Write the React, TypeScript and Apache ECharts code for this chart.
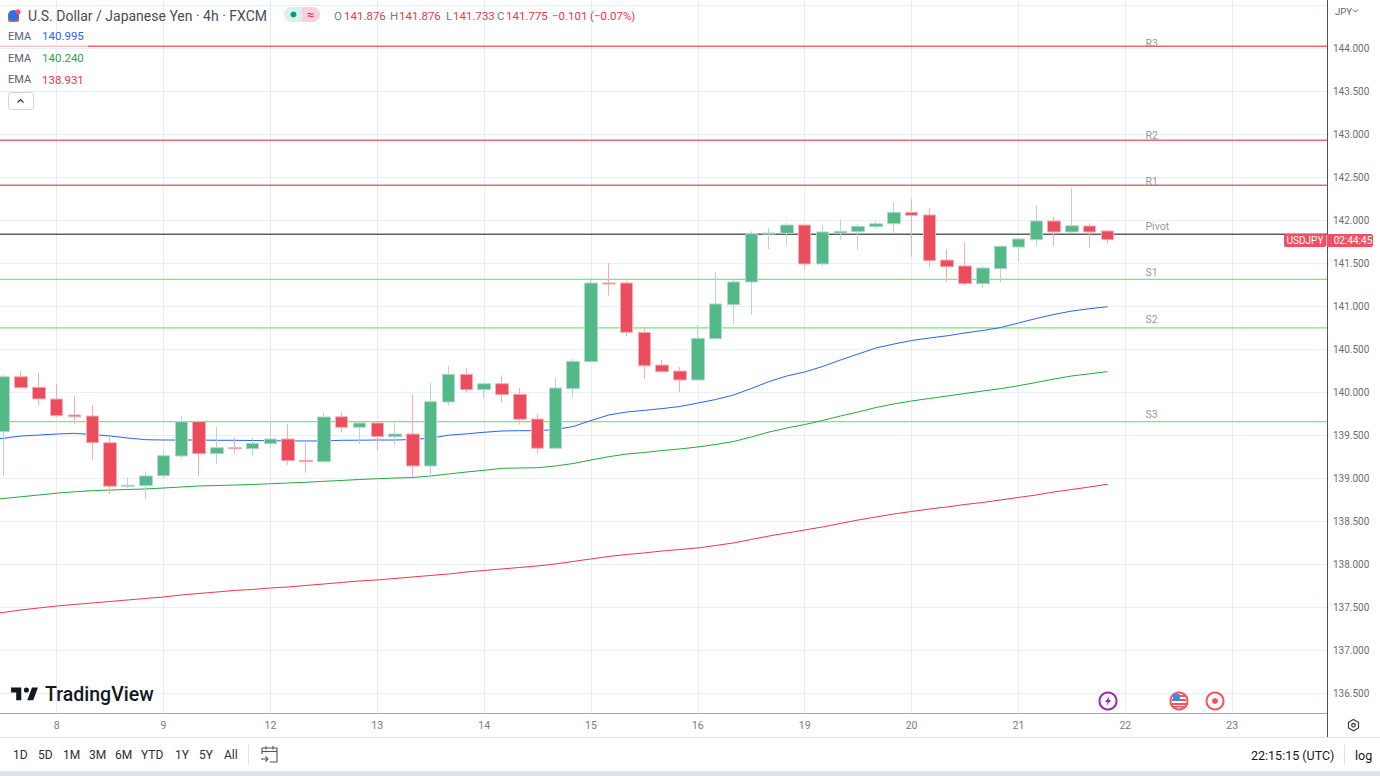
import React, { useEffect, useRef } from "react";
import * as echarts from "echarts";

// ---------- data (prices) ----------
const dayLabels = ["8", "9", "12", "13", "14", "15", "16", "19", "20", "21", "22", "23"];
const priceLabels = [136.5, 137, 137.5, 138, 138.5, 139, 139.5, 140, 140.5, 141, 141.5, 142, 142.5, 143, 143.5, 144];
const priceGrid = [...priceLabels, 144.5];

const opens = [139.542,140.181,140.058,139.922,139.736,139.724,139.414,138.907,138.914,139.030,139.259,139.658,139.286,139.356,139.344,139.402,139.457,139.209,139.193,139.716,139.593,139.643,139.484,139.515,139.143,139.887,140.209,140.030,140.100,139.977,139.689,139.349,140.042,140.356,141.271,141.271,140.697,140.317,140.247,140.143,140.623,141.018,141.283,141.841,141.849,141.945,141.492,141.852,141.867,141.926,141.960,142.093,142.062,141.538,141.469,141.263,141.437,141.689,141.774,141.992,141.864,141.934,141.876];
const closes = [140.181,140.053,139.922,139.728,139.716,139.414,138.907,138.919,139.027,139.263,139.658,139.286,139.356,139.344,139.407,139.457,139.205,139.193,139.713,139.593,139.643,139.484,139.515,139.143,139.891,140.209,140.030,140.100,139.972,139.686,139.349,140.050,140.360,141.271,141.259,140.697,140.309,140.239,140.143,140.628,141.027,141.283,141.844,141.852,141.945,141.492,141.864,141.872,141.930,141.960,142.093,142.058,141.530,141.460,141.263,141.445,141.698,141.783,141.992,141.864,141.937,141.864,141.775];
const lows = [139.030,140.050,139.844,139.713,139.631,139.216,138.817,138.887,138.759,139.003,139.236,139.023,139.170,139.286,139.263,139.356,139.155,139.065,139.181,139.530,139.399,139.321,139.384,139.012,139.012,139.844,139.995,139.934,139.879,139.623,139.286,139.333,139.945,140.352,141.123,140.654,140.154,140.232,140.003,140.138,140.620,140.786,140.902,141.666,141.713,141.437,141.460,141.771,141.655,141.902,141.841,141.579,141.457,141.279,141.240,141.216,141.279,141.515,141.701,141.701,141.860,141.678,141.733];
const highs = [140.201,140.247,140.224,140.096,139.957,139.852,139.480,139.007,139.081,139.329,139.724,139.662,139.596,139.477,139.477,139.666,139.628,139.419,139.763,139.768,139.649,139.649,139.643,139.977,140.108,140.306,140.283,140.105,140.198,140.050,139.748,140.166,140.387,141.325,141.503,141.294,140.744,140.375,140.294,140.782,141.402,141.306,141.872,141.914,141.968,141.950,141.945,142.003,141.957,141.995,142.205,142.248,142.143,141.666,141.748,141.465,141.705,141.790,142.174,142.038,142.375,141.965,141.876];

const emaBlue = [139.451,139.465,139.492,139.503,139.515,139.523,139.509,139.492,139.468,139.449,139.445,139.445,139.445,139.442,139.442,139.439,139.438,139.434,139.434,139.434,139.442,139.443,139.445,139.445,139.451,139.468,139.501,139.517,139.535,139.550,139.554,139.553,139.567,139.602,139.672,139.736,139.771,139.790,139.811,139.835,139.875,139.916,139.968,140.044,140.125,140.190,140.236,140.300,140.375,140.445,140.515,140.561,140.602,140.631,140.657,140.690,140.719,140.753,140.806,140.858,140.905,140.945,140.972,140.995];
const emaGreen = [138.747,138.765,138.785,138.806,138.827,138.843,138.856,138.864,138.870,138.876,138.887,138.899,138.911,138.916,138.922,138.928,138.937,138.945,138.954,138.965,138.975,138.986,138.995,139.003,139.009,139.027,139.050,139.073,139.093,139.116,139.120,139.123,139.143,139.172,139.213,139.251,139.282,139.300,139.323,139.341,139.364,139.393,139.428,139.480,139.538,139.585,139.625,139.672,139.724,139.771,139.823,139.864,139.899,139.928,139.957,139.986,140.015,140.042,140.077,140.114,140.155,140.190,140.215,140.240];
const emaRed = [137.410,137.440,137.469,137.492,137.515,137.533,137.550,137.568,137.585,137.603,137.620,137.643,137.661,137.678,137.696,137.707,137.725,137.736,137.754,137.771,137.789,137.806,137.818,137.835,137.853,137.870,137.887,137.911,137.928,137.946,137.963,137.981,138.004,138.033,138.062,138.091,138.114,138.132,138.155,138.172,138.190,138.219,138.248,138.289,138.329,138.364,138.399,138.434,138.475,138.515,138.550,138.585,138.614,138.643,138.667,138.696,138.719,138.748,138.777,138.806,138.841,138.870,138.899,138.931];

const levelNames = ["R3", "R2", "R1", "Pivot", "S1", "S2", "S3"];
const levelPrices = [144.023, 142.931, 142.408, 141.839, 141.313, 140.75, 139.66];

const rangeButtons = ["1D", "5D", "1M", "3M", "6M", "YTD", "1Y", "5Y", "All"];

// ---------- layout / style ----------
const W = 1380, H = 776, PLOT_R = 1327, PLOT_B = 713;
const FIRST_TICK_PX = 56.7, BAR_PX = 17.81;
const xMin = -FIRST_TICK_PX / BAR_PX;
const xMax = (PLOT_R - FIRST_TICK_PX) / BAR_PX;
const PX_PRICE = 0.011628;
const yMax = 144.5616;
const yMin = yMax - PLOT_B * PX_PRICE;
const UP = "#53b987", DOWN = "#eb4d5c";
const levelColors = ["#f0676d", "#f0676d", "#f0676d", "#5d5f66", "#72ec72", "#72ec72", "#72ec72"];
const levelLabelDy = [-3, -5, -4, -8, -7, -8, -7];
const FONT = "Roboto, 'Liberation Sans', sans-serif";
const LABEL_X = (1145 - FIRST_TICK_PX) / BAR_PX;

const t = (text: string, x: number, y: number, fill: string, size = 12, extra: any = {}) => ({
  type: "text", x, y, z: 100,
  style: { text, fill, font: `${extra.weight || "normal"} ${size}px ${FONT}`, textAlign: extra.align || "left", textVerticalAlign: "middle" },
});
const rect = (x: number, y: number, width: number, height: number, fill: string, r: any = 0, extra: any = {}) => ({
  type: "rect", z: extra.z ?? 90, shape: { x, y, width, height, r },
  style: { fill, stroke: extra.stroke, lineWidth: extra.lineWidth, opacity: extra.opacity },
});
const ln = (x1: number, y1: number, x2: number, y2: number, stroke: string, lineWidth = 1) => ({
  type: "line", z: 95, shape: { x1, y1, x2, y2 }, style: { stroke, lineWidth },
});
const circ = (cx: number, cy: number, r: number, fill: string, stroke?: string, lineWidth = 2) => ({
  type: "circle", z: 96, shape: { cx, cy, r }, style: { fill, stroke, lineWidth },
});

const TV_LOGO = "M14 6H2v6h6v9h6V6z M28 21h-7l5.6-15h7L28 21z M20 12a3 3 0 1 0 0-6 3 3 0 0 0 0 6z";

export default function App() {
  const ref = useRef<HTMLDivElement>(null);
  useEffect(() => {
    echarts.graphic.registerShape("tvlogo", echarts.graphic.extendPath(TV_LOGO, {}));
    const chart = echarts.init(ref.current!, undefined, { renderer: "svg" });
    const candles = opens.map((o, i) => [i - 3, o, closes[i], lows[i], highs[i]]);
    const ema = (arr: number[], color: string) => ({
      type: "line", data: arr.map((v, i) => [i - 4, v]), showSymbol: false, symbol: "none",
      lineStyle: { color, width: 1 }, z: 3, silent: true,
    });
    const greys = "#50535e", muted = "#787b86";
    const graphic: any[] = [
      // legend backdrop dimming the R3 line
      rect(0, 44.5, 88, 3.5, "#ffffff", 0, { opacity: 0.6 }),
      // header
      circ(19, 11, 3.5, "#e8eef5"),
      circ(13.5, 15.5, 5.5, "#2f6fe4"),
      rect(8, 16, 11, 6, "#f0505f", 2),
      circ(18, 12, 2.5, "#f0505f"),
      t("U.S. Dollar / Japanese Yen · 4h · FXCM", 28, 15.5, "#4a4d57", 14),
      rect(284, 7, 18, 15, "#d8f1ea", [7.5, 0, 0, 7.5]),
      rect(302, 7, 18, 15, "#f9d0dd", [0, 7.5, 7.5, 0]),
      circ(293.5, 14.5, 3, "#089981"),
      t("≈", 310.5, 14.5, "#e91e63", 13, { align: "center" }),
      t("O", 334, 15.5, muted, 11.5), t("141.876", 344, 15.5, "#f23645", 11.5),
      t("H", 390, 15.5, muted, 11.5), t("141.876", 399, 15.5, "#f23645", 11.5),
      t("L", 446, 15.5, muted, 11.5), t("141.733", 453, 15.5, "#f23645", 11.5),
      t("C", 497, 15.5, muted, 11.5), t("141.775", 506, 15.5, "#f23645", 11.5),
      t("−0.101", 552, 15.5, "#f23645", 11.5), t("(−0.07%)", 590, 15.5, "#f23645", 11.5),
      t("EMA", 8, 36, "#5d606b", 11), t("140.995", 42, 36, "#2962ff", 11.5),
      t("EMA", 8, 58, "#5d606b", 11), t("140.240", 42, 58, "#22ab3c", 11.5),
      t("EMA", 8, 79.5, "#5d606b", 11), t("138.931", 42, 79.5, "#f23645", 11.5),
      rect(8.5, 92.5, 25, 17, "#ffffff", 3, { stroke: "#d1d4dc", lineWidth: 1 }),
      { type: "polyline", z: 96, shape: { points: [[17.5, 102.5], [20.5, 99.5], [23.5, 102.5]] }, style: { stroke: "#2a2e39", lineWidth: 1.2, fill: "none" } },
      // right scale header
      t("JPY", 1335, 11, "#5d606b", 9.5),
      { type: "polyline", z: 96, shape: { points: [[1353, 9.5], [1355.5, 12], [1358, 9.5]] }, style: { stroke: "#5d606b", lineWidth: 1, fill: "none" } },
      // price tags
      rect(1284, 234, 42, 13, "#f0505f", 2),
      t("USDJPY", 1305, 240.7, "#ffffff", 10, { align: "center" }),
      rect(1326.5, 234, 46.5, 13, "#f0505f", 2),
      t("02:44:45", 1353, 240.7, "#ffffff", 10, { align: "center" }),
      // logo
      { type: "tvlogo", x: 9.4, y: 682.4, scaleX: 0.85, scaleY: 0.85, z: 96, style: { fill: "#131722" } },
      t("TradingView", 45, 694, "#131722", 19.5, { weight: "500" }),
      // events
      circ(1108, 701, 8.5, "#ffffff", "#9c27b0"),
      { type: "polygon", z: 97, shape: { points: [[1109.5, 696], [1105, 702], [1107.6, 702], [1106.5, 706], [1111, 700], [1108.4, 700]] }, style: { fill: "#9c27b0" } },
      circ(1179, 701, 8.5, "#ffffff", "#f7525f"),
      rect(1172, 695, 14, 2, "#f7525f", 0, { z: 97 }), rect(1172, 699, 14, 2, "#f7525f", 0, { z: 97 }),
      rect(1172, 703, 14, 2, "#f7525f", 0, { z: 97 }), rect(1173, 706, 12, 1.5, "#f7525f", 0, { z: 97 }),
      rect(1173, 694, 7, 7, "#3d8bdc", 1, { z: 98 }),
      circ(1215, 701, 8.5, "#ffffff", "#f7525f"),
      circ(1215, 701, 3, "#f7525f"),
      // axis extensions and lower chrome
      ln(1327.5, PLOT_B, 1327.5, 737, greys),
      rect(0, 737.5, W, 34, "#ffffff", 0, { z: 80 }),
      ln(0, 737.5, W, 737.5, "#e0e3eb"),
      rect(0, 771, W, 5, "#e0e3eb", 0),
      { type: "polygon", z: 96, shape: { points: [[1353.5, 719.5], [1358.5, 722.3], [1358.5, 728], [1353.5, 730.8], [1348.5, 728], [1348.5, 722.3]] }, style: { fill: "#fff", stroke: "#363a45", lineWidth: 1.2 } },
      circ(1353.5, 725.2, 1.8, "#fff", "#363a45", 1.2),
      ln(248.5, 745, 248.5, 765, "#e0e3eb"),
      ln(1344.5, 745, 1344.5, 765, "#e0e3eb"),
      { type: "polyline", z: 96, shape: { points: [[262, 754], [262, 748], [277, 748], [277, 762], [270, 762]] }, style: { stroke: "#50535e", lineWidth: 1.1, fill: "none" } },
      ln(262, 751.5, 277, 751.5, "#50535e", 1.1),
      ln(266, 746, 266, 749.5, "#50535e", 1.1),
      ln(273, 746, 273, 749.5, "#50535e", 1.1),
      ln(261, 759, 268, 759, "#50535e", 1.1),
      { type: "polyline", z: 96, shape: { points: [[265.5, 756.5], [268, 759], [265.5, 761.5]] }, style: { stroke: "#50535e", lineWidth: 1.1, fill: "none" } },
      t("22:15:15 (UTC)", 1251, 755, "#131722", 12.5),
      t("log", 1355, 755, "#131722", 12.5),
    ];
    const btnX = [13, 38, 63, 89, 115, 141, 175, 199, 224];
    rangeButtons.forEach((b, i) => graphic.push(t(b, btnX[i], 755, "#2a2e39", 12)));

    chart.setOption({
      animation: false,
      backgroundColor: "#ffffff",
      grid: { left: 0, right: W - PLOT_R, top: 0, bottom: H - PLOT_B, containLabel: false },
      xAxis: {
        type: "value", min: xMin, max: xMax, position: "bottom",
        axisLine: { show: true, onZero: false, lineStyle: { color: "#a3a6af", width: 1 } },
        axisTick: { show: false, customValues: dayLabels.map((_, i) => i * 6) },
        axisLabel: {
          customValues: dayLabels.map((_, i) => i * 6), color: muted, fontSize: 10.5, margin: 7, fontFamily: FONT,
          formatter: (v: number) => dayLabels[Math.round(v / 6)],
        },
        splitLine: { show: true, lineStyle: { color: "#e6eef3", width: 1 } },
      },
      yAxis: {
        type: "value", min: yMin, max: yMax, position: "right", scale: true,
        axisLine: { show: true, onZero: false, lineStyle: { color: greys, width: 1 } },
        axisTick: { show: false, customValues: priceGrid },
        axisLabel: {
          customValues: priceLabels, color: "#6a6d78", fontSize: 10, margin: 6, fontFamily: FONT,
          formatter: (v: number) => v.toFixed(3),
        },
        splitLine: { show: true, lineStyle: { color: "#e9f0f5", width: 1 } },
      },
      series: [
        ...levelPrices.map((p, i) => ({
          type: "line", data: [[xMin, p], [xMax, p]], showSymbol: false, symbol: "none", silent: true, z: 2,
          lineStyle: { color: levelColors[i], width: i < 4 ? 1.5 : 1.2 },
        })),
        {
          type: "candlestick", data: candles, barWidth: 13, silent: true, z: 5,
          encode: { x: 0, y: [1, 2, 3, 4] },
          itemStyle: { color: UP, color0: DOWN, borderColor: "#b5d5d6", borderColor0: "#f7aeb5", borderWidth: 1 },
        },
        ema(emaBlue, "#2962ff"),
        ema(emaGreen, "#22ab3c"),
        ema(emaRed, "#f23645"),
        {
          type: "scatter", symbolSize: 1, silent: true, z: 6, itemStyle: { color: "transparent" },
          data: levelPrices.map((p, i) => ({
            value: [LABEL_X, p], name: levelNames[i],
            label: { show: true, position: "right", distance: 0, offset: [0, levelLabelDy[i]], formatter: levelNames[i], color: muted, fontSize: 10.5, fontFamily: FONT },
          })),
        },
      ],
      graphic: { elements: graphic },
    } as any);
    return () => chart.dispose();
  }, []);
  return <div ref={ref} style={{ position: "fixed", left: 0, top: 0, width: W, height: H }} />;
}
